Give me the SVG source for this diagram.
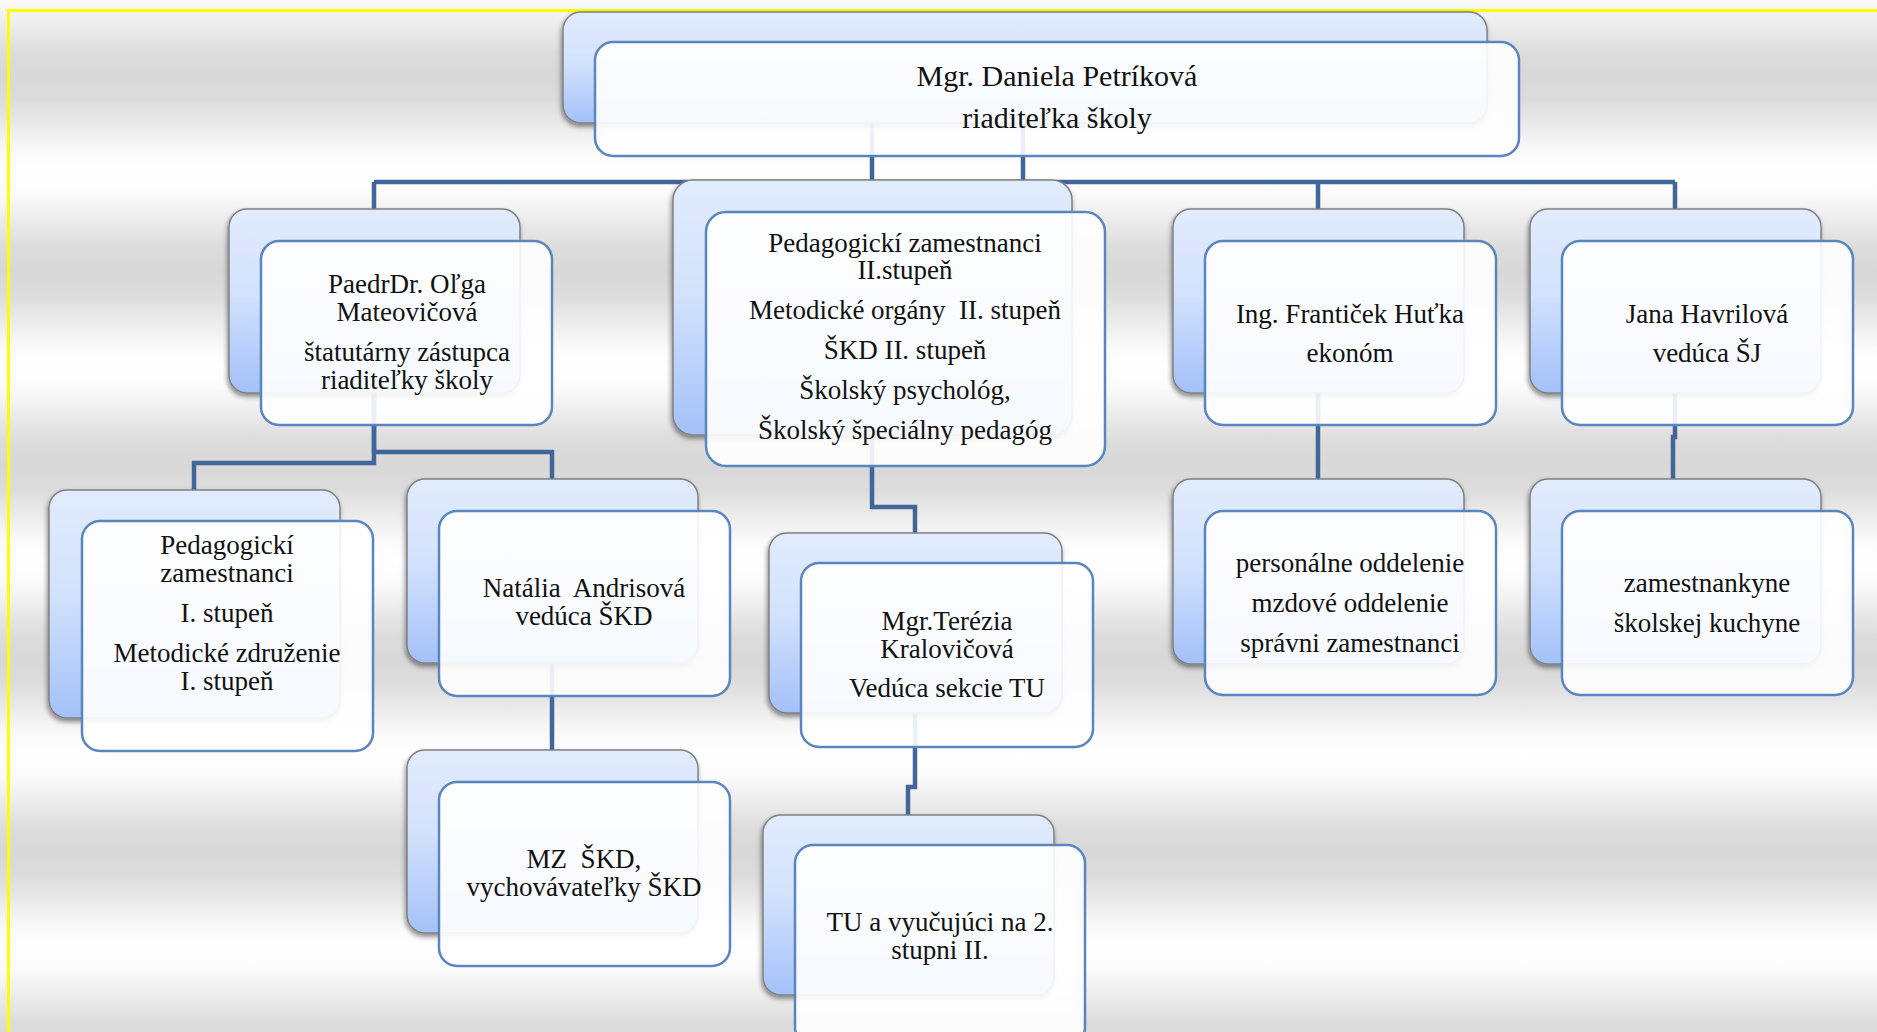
<svg xmlns="http://www.w3.org/2000/svg" width="1877" height="1032" viewBox="0 0 1877 1032">
<defs>
<linearGradient id="bg" gradientUnits="userSpaceOnUse" x1="0" y1="77" x2="0" y2="271" spreadMethod="repeat">
<stop offset="0" stop-color="#d8d8d8"/>
<stop offset="0.12" stop-color="#dcdcdc"/>
<stop offset="0.4" stop-color="#fbfbfb"/>
<stop offset="0.5" stop-color="#ffffff"/>
<stop offset="0.6" stop-color="#fbfbfb"/>
<stop offset="0.88" stop-color="#dcdcdc"/>
<stop offset="1" stop-color="#d8d8d8"/>
</linearGradient>
<linearGradient id="backfill" x1="0" y1="0" x2="0" y2="1">
<stop offset="0" stop-color="#e1ecfc"/>
<stop offset="0.45" stop-color="#d3e2fc"/>
<stop offset="1" stop-color="#a3c1f9"/>
</linearGradient>
<filter id="shadow" x="-10%" y="-10%" width="120%" height="130%">
<feDropShadow dx="-1" dy="3" stdDeviation="2.5" flood-color="#000" flood-opacity="0.45"/>
</filter>
</defs>
<style>
.back{fill:url(#backfill);stroke:#808080;stroke-width:1.5;filter:url(#shadow)}
.front{fill:#ffffff;fill-opacity:0.9;stroke:#5a86bf;stroke-width:2.5}
.conn{fill:none;stroke:#41679a;stroke-width:4.5;stroke-linejoin:miter}
text{font-family:"Liberation Serif","Times New Roman",serif;font-size:27px;fill:#111;text-anchor:middle}
.big{font-size:30px}
</style>
<rect x="0" y="0" width="1877" height="1032" fill="url(#bg)"/>
<rect x="8.5" y="10.5" width="1900" height="1050" fill="none" stroke="#ffff00" stroke-width="3"/>

<g id="connectors">
<path class="conn" d="M1023 123 V182 M374 182 H1675 M872 123 V182"/>
<path class="conn" d="M374 182 V209 M1318 182 V209 M1675 182 V209"/>
<path class="conn" d="M374 393 V463 H194 V490"/>
<path class="conn" d="M374 393 V452 H552 V479"/>
<path class="conn" d="M552 664 V750"/>
<path class="conn" d="M872 435 V507 H915 V533"/>
<path class="conn" d="M915 713 V787 H908 V815"/>
<path class="conn" d="M1318 393 V479"/>
<path class="conn" d="M1675 393 V437 H1673 V479"/>
</g>

<g id="node-root">
<rect class="back" x="563" y="12" width="924" height="111" rx="18"/>
<rect class="front" x="595" y="42" width="924" height="114" rx="18"/>
<text class="big" x="1057" y="86">Mgr. Daniela Petríková</text>
<text class="big" x="1057" y="128">riaditeľka školy</text>
</g>

<g id="node-zastupca">
<rect class="back" x="229" y="209" width="291" height="184" rx="18"/>
<rect class="front" x="261" y="241" width="291" height="184" rx="18"/>
<text x="407" y="293">PaedrDr. Oľga</text>
<text x="407" y="321">Mateovičová</text>
<text x="407" y="361">štatutárny zástupca</text>
<text x="407" y="389">riaditeľky školy</text>
</g>

<g id="node-ped2">
<rect class="back" x="673" y="180" width="399" height="255" rx="20"/>
<rect class="front" x="706" y="212" width="399" height="254" rx="20"/>
<text x="905" y="252">Pedagogickí zamestnanci</text>
<text x="905" y="279">II.stupeň</text>
<text x="905" y="319" xml:space="preserve">Metodické orgány  II. stupeň</text>
<text x="905" y="359">ŠKD II. stupeň</text>
<text x="905" y="399">Školský psychológ,</text>
<text x="905" y="439">Školský špeciálny pedagóg</text>
</g>

<g id="node-ekonom">
<rect class="back" x="1173" y="209" width="291" height="184" rx="18"/>
<rect class="front" x="1205" y="241" width="291" height="184" rx="18"/>
<text x="1350" y="323">Ing. Frantiček Huťka</text>
<text x="1350" y="362">ekonóm</text>
</g>

<g id="node-sj">
<rect class="back" x="1530" y="209" width="291" height="184" rx="18"/>
<rect class="front" x="1562" y="241" width="291" height="184" rx="18"/>
<text x="1707" y="323">Jana Havrilová</text>
<text x="1707" y="362">vedúca ŠJ</text>
</g>

<g id="node-ped1">
<rect class="back" x="49" y="490" width="291" height="228" rx="18"/>
<rect class="front" x="82" y="521" width="291" height="230" rx="18"/>
<text x="227" y="554">Pedagogickí</text>
<text x="227" y="582">zamestnanci</text>
<text x="227" y="622">I. stupeň</text>
<text x="227" y="662">Metodické združenie</text>
<text x="227" y="690">I. stupeň</text>
</g>

<g id="node-skd">
<rect class="back" x="407" y="479" width="291" height="184" rx="18"/>
<rect class="front" x="439" y="511" width="291" height="185" rx="18"/>
<text x="584" y="597" xml:space="preserve">Natália  Andrisová</text>
<text x="584" y="625">vedúca ŠKD</text>
</g>

<g id="node-mzskd">
<rect class="back" x="407" y="750" width="291" height="183" rx="18"/>
<rect class="front" x="439" y="782" width="291" height="184" rx="18"/>
<text x="584" y="868" xml:space="preserve">MZ  ŠKD,</text>
<text x="584" y="896">vychovávateľky ŠKD</text>
</g>

<g id="node-tu-lead">
<rect class="back" x="769" y="533" width="293" height="180" rx="18"/>
<rect class="front" x="801" y="563" width="292" height="184" rx="18"/>
<text x="947" y="630">Mgr.Terézia</text>
<text x="947" y="658">Kralovičová</text>
<text x="947" y="697">Vedúca sekcie TU</text>
</g>

<g id="node-tu">
<rect class="back" x="763" y="815" width="291" height="180" rx="18"/>
<rect class="front" x="795" y="845" width="290" height="200" rx="18"/>
<text x="940" y="931">TU a vyučujúci na 2.</text>
<text x="940" y="959">stupni II.</text>
</g>

<g id="node-personal">
<rect class="back" x="1173" y="479" width="291" height="185" rx="18"/>
<rect class="front" x="1205" y="511" width="291" height="184" rx="18"/>
<text x="1350" y="572">personálne oddelenie</text>
<text x="1350" y="612">mzdové oddelenie</text>
<text x="1350" y="652">správni zamestnanci</text>
</g>

<g id="node-kuchyna">
<rect class="back" x="1530" y="479" width="291" height="185" rx="18"/>
<rect class="front" x="1562" y="511" width="291" height="184" rx="18"/>
<text x="1707" y="592">zamestnankyne</text>
<text x="1707" y="632">školskej kuchyne</text>
</g>
</svg>
